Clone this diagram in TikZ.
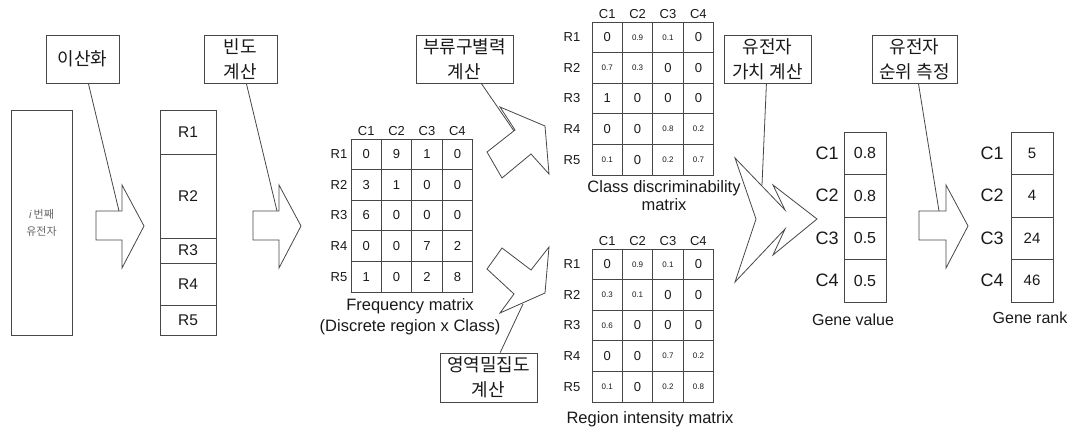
\documentclass[tikz,border=0pt]{standalone}
\usepackage{fontspec}
\setmainfont{Liberation Sans}
\newfontfamily\kr{Noto Sans CJK KR}
\definecolor{linec}{gray}{0.28}
\definecolor{txt}{gray}{0.1}
\newcommand\sv[1]{{\fontsize{8}{8}\selectfont #1}}
\newcommand\mymatrix[5]{%
  \foreach \ci in {1,2,3,4}{%
    \node[lab] (#1c\ci) at ({#2+(\ci-0.5)*30.4},{#3-8}) {C\ci};}
  \foreach \rowlist [count=\ri] in {#5}{%
    \node[lab] (#1r\ri) at ({#2-#4},{#3+(\ri-0.5)*30.6}) {R\ri};
    \foreach \v [count=\ci] in \rowlist {%
      \node[cell] (#1-\ri-\ci) at ({#2+(\ci-0.5)*30.4},{#3+(\ri-0.5)*30.6}) {\v};}
  }%
}
\tikzset{
  ln/.style={draw=linec, line width=0.8pt},
  cell/.style={ln, minimum width=30.4pt, minimum height=30.6pt, inner sep=0pt,
    font=\fontsize{13}{13}\selectfont, text=txt},
  lab/.style={inner sep=0pt, font=\fontsize{13}{13}\selectfont, text=txt},
  callout/.style={ln, inner sep=0pt, minimum height=48pt, align=center,
    font=\kr\fontsize{18}{25}\selectfont, text=txt},
  blockarrow/.style={ln, fill=white, line join=miter},
  rseg/.style={ln, minimum width=56pt, inner sep=0pt, font=\fontsize{15.5}{15.5}\selectfont, text=txt},
  gcell/.style={ln, minimum width=42pt, minimum height=42.5pt, inner sep=0pt, text=txt},
  glab/.style={inner sep=0pt, font=\fontsize{18}{18}\selectfont, text=txt},
  caption/.style={inner sep=0pt, align=center, text=txt},
}
\begin{document}
\begin{tikzpicture}[x=1pt,y=-1pt]
\useasboundingbox (0,0) rectangle (1073,428);

% gene box
\node[ln, minimum width=61pt, minimum height=225pt, inner sep=0pt, align=center,
  font=\fontsize{11}{17}\selectfont, text=black!60] (gene) at (41.5,222.5)
  {\textit{i}\,{\kr 번째}\\{\kr 유전자}};

% region box
\node[rseg, minimum height=44pt] (R1) at (188,132) {R1};
\node[rseg, minimum height=84pt] (R2) at (188,196) {R2};
\node[rseg, minimum height=25pt] (R3) at (188,250.5) {R3};
\node[rseg, minimum height=42pt] (R4) at (188,284) {R4};
\node[rseg, minimum height=30pt] (R5) at (188,320) {R5};

% callouts
\node[callout, minimum width=73pt] (k1) at (82.5,59) {이산화};
\node[callout, minimum width=73pt] (k2) at (240.5,59) {빈도\\계산};
\node[callout, minimum width=97pt] (k3) at (464.5,59) {부류구별력\\계산};
\node[callout, minimum width=97pt, minimum height=49pt] (k4) at (488.5,377.5) {영역밀집도\\계산};
\node[callout, minimum width=87pt] (k5) at (767.5,59) {유전자\\가치 계산};
\node[callout, minimum width=85pt] (k6) at (914.5,59) {유전자\\순위 측정};

% block arrows
\draw[blockarrow] (96,211) -- (122,211) -- (122,185) -- (144,226) -- (122,268) -- (122,240) -- (96,240) -- cycle;
\draw[blockarrow] (253,211) -- (279,211) -- (279,185) -- (301,226) -- (279,268) -- (279,240) -- (253,240) -- cycle;
\draw[blockarrow] (919,211) -- (946,211) -- (946,185) -- (968,226) -- (946,268) -- (946,240) -- (919,240) -- cycle;
\draw[blockarrow] (500,107) -- (545,126) -- (549,174) -- (531,154) -- (502,178) -- (487,152) -- (515,130) -- cycle;
\draw[blockarrow] (549,247) -- (545,293) -- (500,313) -- (514,294) -- (487,269) -- (502,248) -- (531,270) -- cycle;
\draw[blockarrow] (735,158) -- (785,210) -- (773,185) -- (817,219) -- (773,255) -- (785,229) -- (735,282) -- (756,219) -- cycle;

% leader lines
\coordinate (p1) at (119,211);
\coordinate (p2) at (277,211);
\coordinate (p3) at (514,131);
\coordinate (p4) at (523,304);
\coordinate (p5) at (762,185);
\coordinate (p6) at (939,211);
\draw[ln] (k1) -- (p1);
\draw[ln] (k2) -- (p2);
\draw[ln] (k3) -- (p3);
\draw[ln] (k4) -- (p4);
\draw[ln] (k5) -- (p5);
\draw[ln] (k6) -- (p6);

% matrices
\mymatrix{f}{351}{139}{12}{{0,9,1,0},{3,1,0,0},{6,0,0,0},{0,0,7,2},{1,0,2,8}}
\mymatrix{d}{592}{22}{20}{{0,\sv{0.9},\sv{0.1},0},{\sv{0.7},\sv{0.3},0,0},{1,0,0,0},{0,0,\sv{0.8},\sv{0.2}},{\sv{0.1},0,\sv{0.2},\sv{0.7}}}
\mymatrix{g}{592}{249}{20}{{0,\sv{0.9},\sv{0.1},0},{\sv{0.3},\sv{0.1},0,0},{\sv{0.6},0,0,0},{0,0,\sv{0.7},\sv{0.2}},{\sv{0.1},0,\sv{0.2},\sv{0.8}}}

\node[caption, font=\fontsize{16.5}{21}\selectfont] (fcap) at (410,316.5) {Frequency matrix\\(Discrete region x Class)};
\node[caption, font=\fontsize{16.5}{17.5}\selectfont] (dcap) at (664,195.5) {Class discriminability\\matrix};
\node[caption, font=\fontsize{16.5}{17.5}\selectfont] (gcap) at (650,419) {Region intensity matrix};

% gene value
\foreach \v [count=\i] in {0.8,0.8,0.5,0.5}{
  \node[gcell, font=\fontsize{16}{16}\selectfont] (gv\i) at (865,{132+(\i-0.5)*42.5}) {\v};
  \node[glab] (gvl\i) at (827,{132+(\i-0.5)*42.5}) {C\i};
}
\node[caption, font=\fontsize{16}{16}\selectfont] (gvcap) at (853,320) {Gene value};

% gene rank
\foreach \v [count=\i] in {5,4,24,46}{
  \node[gcell, font=\fontsize{15}{15}\selectfont] (gr\i) at (1032,{132+(\i-0.5)*42.5}) {\v};
  \node[glab] (grl\i) at (992,{132+(\i-0.5)*42.5}) {C\i};
}
\node[caption, font=\fontsize{16}{16}\selectfont] (grcap) at (1030,318) {Gene rank};
\end{tikzpicture}
\end{document}
